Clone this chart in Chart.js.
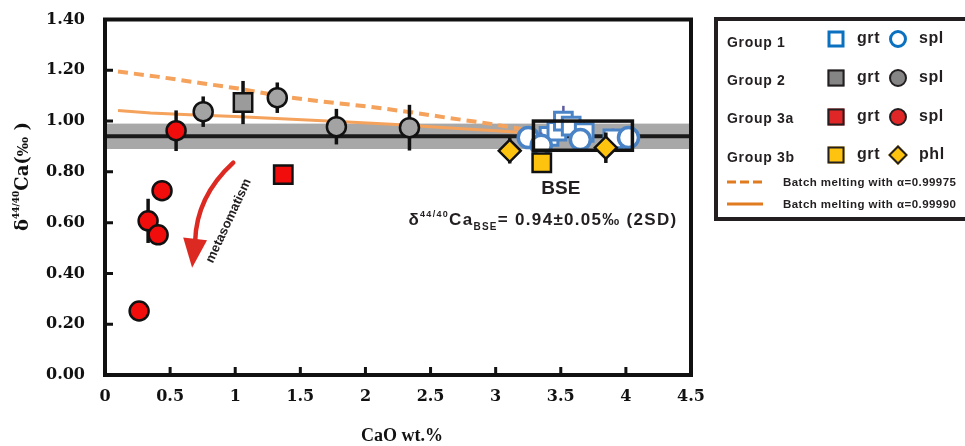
<!DOCTYPE html>
<html lang="en">
<head>
<meta charset="UTF-8">
<title>Ca isotopes vs CaO</title>
<script src="https://cdn.jsdelivr.net/npm/chart.js"></script>
<style>
    html, body { margin: 0; padding: 0; background: #fff; overflow: hidden; }
    #wrap { position: relative; width: 965px; height: 446px; }
    #chart { position: absolute; left: 0; top: 0; }
    .key {
        position: absolute; left: 714px; top: 17px;
        width: 270px; height: 196px;
        border: 4px solid #231f20;
        font-family: 'Liberation Sans', Arial, sans-serif;
        font-weight: bold; color: #231f20;
    }
    .key > * { position: absolute; white-space: nowrap; transform: translate(0, -50%); }
    .key .grp { left: 9px; font-size: 14px; letter-spacing: 0.7px; }
    .key .min { font-size: 16px; letter-spacing: 0.6px; }
    .key .mk { transform: translate(-50%, -50%); box-sizing: border-box; }
    .sq { width: 17px; height: 17px; border: 2.5px solid #231f20; }
    .ci { width: 18px; height: 18px; border: 2.5px solid #231f20; border-radius: 50%; }
    .di { width: 14px; height: 14px; border: 2.5px solid #231f20; background: #fdc30f; }
    .key .di { transform: translate(-50%, -50%) rotate(45deg); }
    .key .ln { left: 9px; width: 36px; height: 3px; }
    .key .lt { left: 65px; font-size: 11.5px; letter-spacing: 0.45px; }
</style>
</head>
<body>
<div id="wrap">
    <canvas id="chart" width="965" height="446"></canvas>
    <div class="key">
        <span class="grp" style="top:21px">Group 1</span>
        <div class="mk sq" style="left:118px;top:18px;border:3px solid #0a70c0;background:#fff"></div>
        <span class="min" style="left:139px;top:17px">grt</span>
        <div class="mk ci" style="left:180px;top:18px;border:3px solid #0a70c0;background:#fff"></div>
        <span class="min" style="left:201px;top:17px">spl</span>

        <span class="grp" style="top:59px">Group 2</span>
        <div class="mk sq" style="left:118px;top:57px;background:#858585"></div>
        <span class="min" style="left:139px;top:56px">grt</span>
        <div class="mk ci" style="left:180px;top:57px;background:#858585"></div>
        <span class="min" style="left:201px;top:56px">spl</span>

        <span class="grp" style="top:97px">Group 3a</span>
        <div class="mk sq" style="left:118px;top:96px;background:#e02626"></div>
        <span class="min" style="left:139px;top:95px">grt</span>
        <div class="mk ci" style="left:180px;top:96px;background:#e02626"></div>
        <span class="min" style="left:201px;top:95px">spl</span>

        <span class="grp" style="top:136px">Group 3b</span>
        <div class="mk sq" style="left:118px;top:134px;background:#fdc30f"></div>
        <span class="min" style="left:139px;top:133px">grt</span>
        <div class="mk di" style="left:180px;top:134px"></div>
        <span class="min" style="left:201px;top:133px">phl</span>

        <div class="ln" style="top:161px;background:repeating-linear-gradient(90deg,#e07b20 0 9px,transparent 9px 13px)"></div>
        <span class="lt" style="top:161px">Batch melting with α=0.99975</span>
        <div class="ln" style="top:183px;background:#e07b20"></div>
        <span class="lt" style="top:183px">Batch melting with α=0.99990</span>
    </div>
</div>
<script>
    // axis ticks
    const xMin = 0, xMax = 4.5, xStep = 0.5;
    const yMin = 0, yMax = 1.4, yStep = 0.2;

    // bulk silicate earth value and 2SD
    const bseValue = 0.94;
    const bse2sd = 0.05;

    // Group 1 (blue open symbols)
    const g1GrtX = [3.41, 3.47, 3.52, 3.58, 3.68, 3.90];
    const g1GrtY = [0.94, 0.96, 1.00, 0.98, 0.955, 0.93];
    const g1GrtErr = [0.05, 0.05, 0.06, 0.05, 0.04, 0.04];
    const g1SplX = [3.25, 3.35, 3.65, 4.02];
    const g1SplY = [0.935, 0.905, 0.927, 0.935];
    const g1SplErr = [0.03, 0.05, 0.04, 0.03];

    // Group 2 (grey)
    const g2GrtX = [1.06];
    const g2GrtY = [1.073];
    const g2GrtErr = [0.085];
    const g2SplX = [0.754, 1.323, 1.777, 2.338];
    const g2SplY = [1.037, 1.092, 0.978, 0.974];
    const g2SplErr = [0.06, 0.06, 0.07, 0.09];

    // Group 3a (red)
    const g3aGrtX = [1.369];
    const g3aGrtY = [0.789];
    const g3aGrtErr = [0];
    const g3aSplX = [0.546, 0.438, 0.331, 0.408, 0.262];
    const g3aSplY = [0.962, 0.726, 0.607, 0.552, 0.252];
    const g3aSplErr = [0.08, 0, 0.087, 0, 0];

    // Group 3b (yellow)
    const g3bGrtX = [3.354];
    const g3bGrtY = [0.836];
    const g3bGrtErr = [0];
    const g3bPhlX = [3.108, 3.846];
    const g3bPhlY = [0.883, 0.895];
    const g3bPhlErr = [0.05, 0.06];

    // batch melting curves
    const melt975X = [0.10, 0.40, 0.73, 1.04, 1.37, 1.70, 2.02, 2.35, 2.63, 2.95, 3.23];
    const melt975Y = [1.195, 1.175, 1.15, 1.127, 1.096, 1.075, 1.057, 1.035, 1.013, 0.99, 0.966];
    const melt990X = [0.10, 0.35, 0.65, 1.00, 1.75, 2.20, 2.65, 3.00, 3.30];
    const melt990Y = [1.042, 1.032, 1.025, 1.018, 0.999, 0.987, 0.973, 0.962, 0.952];

    const toPts = (xs, ys) => xs.map((x, i) => ({ x: x, y: ys[i] }));

    function marker(label, xs, ys, errs, style, radius, fill, stroke, bw, order, errColor) {
        return {
            label: label,
            data: toPts(xs, ys),
            errY: errs,
            errColor: errColor || '#111',
            pointStyle: style,
            pointRadius: radius,
            pointBackgroundColor: fill,
            pointBorderColor: stroke,
            pointBorderWidth: bw,
            order: order
        };
    }

    const datasets = [
        {
            label: 'Batch melting with α=0.99975',
            data: toPts(melt975X, melt975Y),
            showLine: true, pointRadius: 0,
            borderColor: '#f5a25c', borderWidth: 4, borderDash: [10, 6],
            order: 20
        },
        {
            label: 'Batch melting with α=0.99990',
            data: toPts(melt990X, melt990Y),
            showLine: true, pointRadius: 0,
            borderColor: '#f5a25c', borderWidth: 3,
            order: 19
        },
        marker('Group 1 grt', g1GrtX, g1GrtY, g1GrtErr, 'rect', 12.5, '#fff', '#4a84c6', 3, 10, '#5d5ba0'),
        marker('Group 1 spl', g1SplX, g1SplY, g1SplErr, 'circle', 10, '#fff', '#4a84c6', 3.5, 9, '#5d5ba0'),
        marker('Group 2 grt', g2GrtX, g2GrtY, g2GrtErr, 'rect', 13, '#9b9b9b', '#111', 2.5, 5),
        marker('Group 2 spl', g2SplX, g2SplY, g2SplErr, 'circle', 9.5, '#a3a3a3', '#111', 2.5, 4),
        marker('Group 3a grt', g3aGrtX, g3aGrtY, g3aGrtErr, 'rect', 13, '#f20d0d', '#111', 2.5, 3),
        marker('Group 3a spl', g3aSplX, g3aSplY, g3aSplErr, 'circle', 9.5, '#f20d0d', '#111', 2.5, 2),
        marker('Group 3b grt', g3bGrtX, g3bGrtY, g3bGrtErr, 'rect', 13, '#fdc30f', '#111', 2.5, 1),
        marker('Group 3b phl', g3bPhlX, g3bPhlY, g3bPhlErr, 'rectRot', 11, '#fdc30f', '#111', 2.5, 0)
    ];

    const serif = '"DejaVu Serif", serif';
    const sans = '"Liberation Sans", Arial, sans-serif';

    const extras = {
        id: 'extras',
        beforeDatasetsDraw(chart) {
            const { ctx, chartArea: a, scales: { y } } = chart;
            ctx.save();
            ctx.fillStyle = '#a8a8a8';
            const top = y.getPixelForValue(bseValue + bse2sd);
            const bot = y.getPixelForValue(bseValue - bse2sd);
            ctx.fillRect(a.left, top, a.right - a.left, bot - top);
            ctx.strokeStyle = '#1a1a1a';
            ctx.lineWidth = 4;
            ctx.beginPath();
            ctx.moveTo(a.left, y.getPixelForValue(bseValue));
            ctx.lineTo(a.right, y.getPixelForValue(bseValue));
            ctx.stroke();
            ctx.restore();
        },
        beforeDatasetDraw(chart, args) {
            const ds = chart.data.datasets[args.index];
            if (!ds.errY) return;
            const { ctx, scales: { x, y } } = chart;
            ctx.save();
            ctx.strokeStyle = ds.errColor;
            ctx.lineWidth = ds.errColor === '#111' ? 3.5 : 2.5;
            ds.data.forEach((p, i) => {
                const e = ds.errY[i];
                if (!e) return;
                const px = x.getPixelForValue(p.x);
                ctx.beginPath();
                ctx.moveTo(px, y.getPixelForValue(p.y - e));
                ctx.lineTo(px, y.getPixelForValue(p.y + e));
                ctx.stroke();
            });
            ctx.restore();
        },
        afterDatasetDraw(chart, args) {
            const ds = chart.data.datasets[args.index];
            if (ds.label !== 'Group 1 spl') return;
            // BSE box
            const { ctx, scales: { x, y } } = chart;
            ctx.save();
            ctx.strokeStyle = '#111';
            ctx.lineWidth = 3.5;
            const l = x.getPixelForValue(3.29), r = x.getPixelForValue(4.05);
            const t = y.getPixelForValue(1.0), b = y.getPixelForValue(0.885);
            ctx.strokeRect(l, t, r - l, b - t);
            ctx.restore();
        },
        afterDraw(chart) {
            const { ctx, chartArea: a, scales: { x, y } } = chart;
            ctx.save();
            // frame
            ctx.strokeStyle = '#111';
            ctx.lineWidth = 4;
            ctx.strokeRect(a.left, a.top, a.right - a.left, a.bottom - a.top);
            // inner ticks
            ctx.lineWidth = 3;
            ctx.beginPath();
            x.ticks.forEach(t => {
                const px = x.getPixelForValue(t.value);
                ctx.moveTo(px, a.bottom);
                ctx.lineTo(px, a.bottom - 8);
            });
            y.ticks.forEach(t => {
                const py = y.getPixelForValue(t.value);
                ctx.moveTo(a.left, py);
                ctx.lineTo(a.left + 8, py);
            });
            ctx.stroke();

            // axis titles
            ctx.fillStyle = '#111';
            ctx.textAlign = 'center';
            ctx.textBaseline = 'middle';
            ctx.font = 'bold 18px "Liberation Serif", serif';
            ctx.fillText('CaO wt.%', (a.left + a.right) / 2 + 4, 436);

            ctx.save();
            ctx.translate(28, 231);
            ctx.rotate(-Math.PI / 2);
            ctx.textAlign = 'left';
            ctx.textBaseline = 'alphabetic';
            let tx = 0;
            const part = (s, font, dy) => {
                ctx.font = font;
                ctx.fillText(s, tx, dy);
                tx += ctx.measureText(s).width;
            };
            part('δ', 'bold 18px ' + serif, 0);
            part('44/40', 'bold 9px ' + serif, -9);
            part('Ca(', 'bold 18px ' + serif, 0);
            part('‰', 'bold 14px ' + serif, 0);
            part(' )', 'bold 18px ' + serif, 0);
            ctx.restore();

            // BSE label and formula
            ctx.fillStyle = '#231f20';
            ctx.textAlign = 'center';
            ctx.textBaseline = 'middle';
            ctx.font = 'bold 19px ' + sans;
            ctx.fillText('BSE', x.getPixelForValue(3.5), y.getPixelForValue(0.735));

            ctx.textAlign = 'left';
            ctx.textBaseline = 'alphabetic';
            ctx.letterSpacing = '1.3px';
            let fx = x.getPixelForValue(2.33);
            const fy = y.getPixelForValue(0.59);
            const fpart = (s, size, dy) => {
                ctx.font = 'bold ' + size + 'px ' + sans;
                ctx.fillText(s, fx, fy + dy);
                fx += ctx.measureText(s).width;
            };
            fpart('δ', 17, 0);
            fpart('44/40', 9, -8);
            fpart('Ca', 17, 0);
            fpart('BSE', 10, 5);
            fpart('= 0.94', 17, 0);
            fpart('±', 17, 0);
            fpart('0.05‰ (2SD)', 17, 0);
            ctx.letterSpacing = '0px';

            // metasomatism arrow
            const P = (vx, vy) => [x.getPixelForValue(vx), y.getPixelForValue(vy)];
            const p0 = P(0.985, 0.836), c = P(0.70, 0.702), p2 = P(0.692, 0.524), tip = P(0.669, 0.422);
            ctx.strokeStyle = '#dc2a22';
            ctx.fillStyle = '#dc2a22';
            ctx.lineWidth = 4.5;
            ctx.lineCap = 'round';
            ctx.beginPath();
            ctx.moveTo(p0[0], p0[1]);
            ctx.quadraticCurveTo(c[0], c[1], p2[0], p2[1]);
            ctx.stroke();
            const dx = tip[0] - p2[0], dy = tip[1] - p2[1];
            const len = Math.hypot(dx, dy);
            const nx = -dy / len * 12, ny = dx / len * 12;
            ctx.beginPath();
            ctx.moveTo(tip[0], tip[1]);
            ctx.lineTo(p2[0] + nx, p2[1] + ny - 3);
            ctx.lineTo(p2[0] - nx, p2[1] - ny - 3);
            ctx.closePath();
            ctx.fill();

            const m = P(0.95, 0.607);
            ctx.save();
            ctx.translate(m[0], m[1]);
            ctx.rotate(-65 * Math.PI / 180);
            ctx.fillStyle = '#231f20';
            ctx.textAlign = 'center';
            ctx.textBaseline = 'middle';
            ctx.font = 'bold 13px ' + sans;
            ctx.fillText('metasomatism', 0, 0);
            ctx.restore();

            ctx.restore();
        }
    };

    new Chart(document.getElementById('chart'), {
        type: 'scatter',
        data: { datasets: datasets },
        options: {
            responsive: false,
            animation: false,
            events: [],
            layout: { padding: { top: 19.5, right: 274, left: 0, bottom: 0 } },
            plugins: { legend: { display: false }, tooltip: { enabled: false } },
            scales: {
                x: {
                    type: 'linear', min: xMin, max: xMax,
                    grid: { display: false, drawTicks: false },
                    border: { display: false },
                    ticks: {
                        stepSize: xStep, padding: 12, color: '#111',
                        font: { family: serif, size: 16, weight: 'bold' },
                        callback: v => String(v)
                    },
                    afterFit(scale) { scale.height = 71; scale.paddingLeft = 0; scale.paddingRight = 0; }
                },
                y: {
                    type: 'linear', min: yMin, max: yMax,
                    grid: { display: false, drawTicks: false },
                    border: { display: false },
                    ticks: {
                        stepSize: yStep, padding: 20, color: '#111',
                        font: { family: serif, size: 16, weight: 'bold' },
                        callback: v => v.toFixed(2)
                    },
                    afterFit(scale) { scale.width = 105; scale.paddingTop = 0; scale.paddingBottom = 0; }
                }
            }
        },
        plugins: [extras]
    });
</script>
</body>
</html>
